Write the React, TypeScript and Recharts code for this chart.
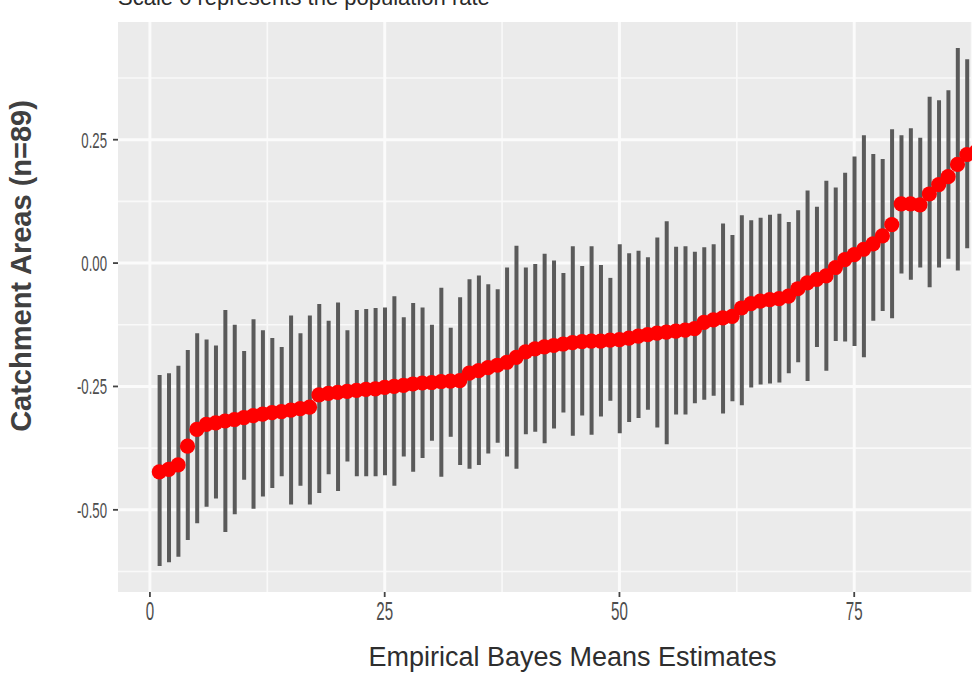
import React from 'react';
import { ComposedChart, Bar, Scatter, XAxis, YAxis, CartesianGrid } from 'recharts';

const indices = [
  1, 2, 3, 4, 5, 6, 7, 8, 9, 10, 11, 12, 13, 14, 15, 16, 17, 18, 19, 20,
  21, 22, 23, 24, 25, 26, 27, 28, 29, 30, 31, 32, 33, 34, 35, 36, 37, 38, 39, 40,
  41, 42, 43, 44, 45, 46, 47, 48, 49, 50, 51, 52, 53, 54, 55, 56, 57, 58, 59, 60,
  61, 62, 63, 64, 65, 66, 67, 68, 69, 70, 71, 72, 73, 74, 75, 76, 77, 78, 79, 80,
  81, 82, 83, 84, 85, 86, 87, 88, 89,
];

const means = [
  -0.423, -0.418, -0.409, -0.371, -0.337, -0.327, -0.324, -0.320, -0.317, -0.313,
  -0.309, -0.306, -0.303, -0.301, -0.298, -0.295, -0.292, -0.267, -0.264, -0.262,
  -0.260, -0.258, -0.256, -0.255, -0.252, -0.250, -0.248, -0.245, -0.243, -0.242,
  -0.240, -0.239, -0.238, -0.223, -0.218, -0.212, -0.207, -0.201, -0.191, -0.180,
  -0.174, -0.170, -0.167, -0.164, -0.161, -0.159, -0.158, -0.158, -0.156, -0.155,
  -0.152, -0.148, -0.145, -0.142, -0.140, -0.138, -0.136, -0.133, -0.120, -0.115,
  -0.111, -0.108, -0.091, -0.082, -0.077, -0.074, -0.072, -0.067, -0.052, -0.040,
  -0.033, -0.026, -0.009, 0.007, 0.017, 0.028, 0.039, 0.055, 0.078, 0.120,
  0.120, 0.118, 0.140, 0.159, 0.175, 0.200, 0.220, 0.226, 0.235,
];

const lowers = [
  -0.614, -0.606, -0.595, -0.561, -0.527, -0.494, -0.477, -0.545, -0.509, -0.439,
  -0.498, -0.473, -0.456, -0.432, -0.489, -0.451, -0.489, -0.466, -0.428, -0.462,
  -0.402, -0.432, -0.432, -0.432, -0.430, -0.451, -0.392, -0.423, -0.395, -0.360,
  -0.433, -0.352, -0.409, -0.417, -0.409, -0.386, -0.364, -0.392, -0.417, -0.347,
  -0.342, -0.365, -0.335, -0.303, -0.350, -0.309, -0.348, -0.311, -0.279, -0.345,
  -0.322, -0.314, -0.297, -0.333, -0.367, -0.307, -0.307, -0.284, -0.277, -0.269,
  -0.305, -0.280, -0.288, -0.252, -0.246, -0.244, -0.242, -0.223, -0.201, -0.239,
  -0.170, -0.218, -0.158, -0.159, -0.168, -0.191, -0.117, -0.097, -0.112, -0.021,
  -0.034, -0.009, -0.049, -0.009, 0.009, -0.015, 0.030, 0.040, 0.050,
];

const uppers = [
  -0.227, -0.223, -0.208, -0.176, -0.142, -0.155, -0.167, -0.095, -0.125, -0.178,
  -0.114, -0.136, -0.152, -0.170, -0.106, -0.142, -0.106, -0.083, -0.117, -0.080,
  -0.136, -0.095, -0.093, -0.091, -0.090, -0.067, -0.110, -0.081, -0.090, -0.125,
  -0.050, -0.131, -0.069, -0.033, -0.025, -0.043, -0.053, -0.009, 0.035, -0.009,
  -0.002, 0.019, 0.005, -0.020, 0.034, -0.006, 0.034, -0.004, -0.030, 0.038,
  0.020, 0.025, 0.012, 0.052, 0.085, 0.033, 0.034, 0.023, 0.032, 0.038,
  0.080, 0.057, 0.097, 0.087, 0.092, 0.098, 0.100, 0.083, 0.107, 0.147,
  0.114, 0.167, 0.153, 0.183, 0.216, 0.259, 0.221, 0.211, 0.271, 0.259,
  0.273, 0.254, 0.337, 0.330, 0.350, 0.436, 0.413, 0.400, 0.420,
];

const xTicks = [0, 25, 50, 75];
const xMinor = [12.5, 37.5, 62.5, 87.5];
const yTicks = [-0.5, -0.25, 0, 0.25];
const yMinor = [-0.625, -0.375, -0.125, 0.125, 0.375];
const xDomain = [-3.4, 93.4];
const yDomain = [-0.6665, 0.4885];

const titleText = 'Scale 0 represents the population rate';
const xTitle = 'Empirical Bayes Means Estimates';
const yTitle = 'Catchment Areas (n=89)';

const FONT = "'Liberation Sans', Arial, Helvetica, sans-serif";

const data = indices.map((id, k) => ({
  id,
  mean: means[k],
  range: [lowers[k], uppers[k]],
}));

const fmtY = (v: number) => v.toFixed(2);

const YTick = (props: any) => {
  const { x, y, payload } = props;
  return (
    <g transform={`translate(${x},${y})`}>
      <text
        transform="scale(0.6,1)"
        textAnchor="end"
        dy="0.36em"
        fontSize={22}
        fill="#4D4D4D"
        fontFamily={FONT}
      >
        {fmtY(payload.value)}
      </text>
    </g>
  );
};

const XTick = (props: any) => {
  const { x, y, payload } = props;
  return (
    <g transform={`translate(${x},${y})`}>
      <text
        transform="scale(0.58,1)"
        textAnchor="middle"
        dy="0.72em"
        fontSize={26}
        fill="#4D4D4D"
        fontFamily={FONT}
      >
        {String(payload.value)}
      </text>
    </g>
  );
};

const renderYTitle = (props: any) => {
  const vb = props && props.viewBox ? props.viewBox : { x: 0, y: 22, width: 118, height: 570 };
  const cx = vb.x + 21;
  const cy = vb.y + vb.height / 2 - 41;
  return (
    <text
      x={cx}
      y={cy}
      transform={`rotate(-90 ${cx} ${cy})`}
      textAnchor="middle"
      dominantBaseline="central"
      fontSize={29}
      fontWeight="bold"
      fill="#404040"
      fontFamily={FONT}
    >
      {yTitle}
    </text>
  );
};

const RedDot = (props: any) => {
  const { cx, cy } = props;
  if (cx == null || cy == null) return <g />;
  return <circle cx={cx} cy={cy} r={7.6} fill="#FF0000" />;
};

export default function App() {
  return (
    <div
      style={{
        position: 'fixed',
        left: 0,
        top: 0,
        width: 972,
        height: 674,
        overflow: 'hidden',
        background: '#FFFFFF',
      }}
    >
      <div
        style={{
          position: 'absolute',
          left: 118,
          top: -13,
          fontFamily: FONT,
          fontSize: 22,
          lineHeight: '22px',
          color: '#2a2a2a',
          whiteSpace: 'nowrap',
        }}
      >
        {titleText}
      </div>
      <div style={{ position: 'absolute', left: 0, top: 0 }}>
        <ComposedChart
          width={1040}
          height={674}
          data={data}
          margin={{ top: 22, right: 13, bottom: 0, left: 0 }}
        >
          <CartesianGrid
            fill="#EBEBEB"
            stroke="#F9F9F9"
            strokeWidth={1.6}
            horizontalValues={yMinor}
            verticalValues={xMinor}
          />
          <CartesianGrid
            fill="none"
            stroke="#FBFBFB"
            strokeWidth={3}
            horizontalValues={yTicks}
            verticalValues={xTicks}
          />
          <XAxis
            dataKey="id"
            type="number"
            domain={xDomain}
            ticks={xTicks}
            interval={0}
            allowDataOverflow
            axisLine={false}
            tickLine={{ stroke: '#444444', strokeWidth: 1.8 }}
            tickSize={5}
            tickMargin={4}
            tick={(p: any) => <XTick {...p} />}
            height={82}
            label={{
              value: xTitle,
              position: 'insideBottom',
              offset: 8,
              fill: '#2e2e2e',
              fontSize: 27,
              fontFamily: FONT,
            }}
          />
          <YAxis
            type="number"
            domain={yDomain}
            ticks={yTicks}
            interval={0}
            allowDataOverflow
            axisLine={false}
            tickLine={{ stroke: '#444444', strokeWidth: 1.8 }}
            tickSize={5}
            tickMargin={6}
            tick={(p: any) => <YTick {...p} />}
            width={118}
            label={{ content: renderYTitle }}
          />
          <Bar
            dataKey="range"
            barSize={4}
            fill="#5A5A5A"
            isAnimationActive={false}
          />
          <Scatter
            dataKey="mean"
            fill="#FF0000"
            shape={(p: any) => <RedDot {...p} />}
            isAnimationActive={false}
          />
        </ComposedChart>
      </div>
    </div>
  );
}
